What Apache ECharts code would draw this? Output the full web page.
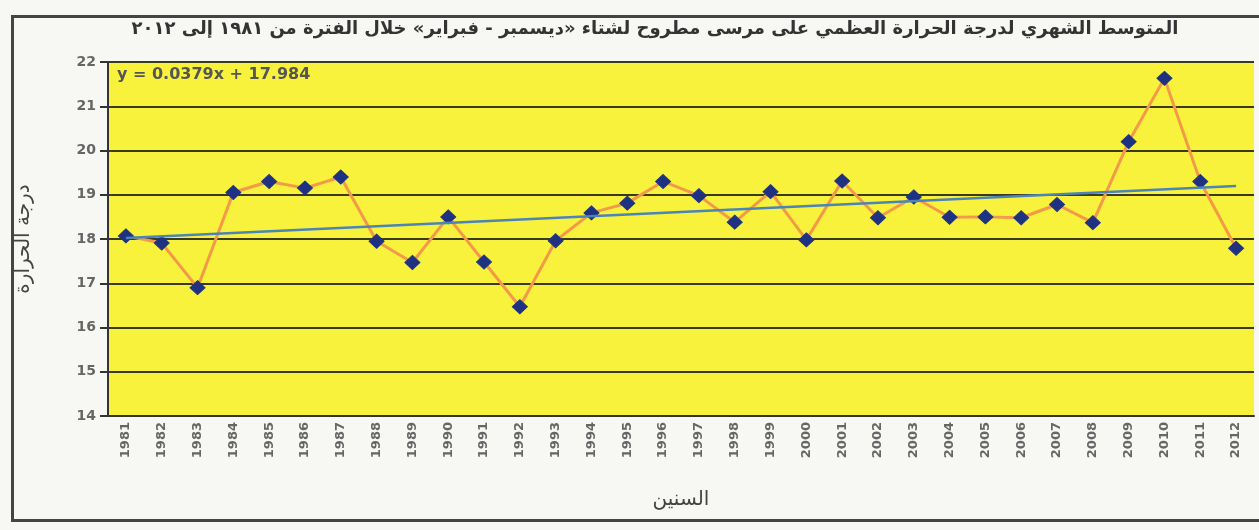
<!DOCTYPE html>
<html>
<head>
<meta charset="utf-8">
<script src="https://cdn.jsdelivr.net/npm/echarts@6/dist/echarts.min.js"></script>
<style>
  html, body { margin: 0; padding: 0; background: #f7f7f4; }
  #main { width: 1259px; height: 530px; }
</style>
</head>
<body>
<div id="main"></div>
<script>
// السنوات (محور السينات)
var years = ['1981', '1982', '1983', '1984', '1985', '1986', '1987', '1988', '1989', '1990',
  '1991', '1992', '1993', '1994', '1995', '1996', '1997', '1998', '1999', '2000',
  '2001', '2002', '2003', '2004', '2005', '2006', '2007', '2008', '2009', '2010',
  '2011', '2012'];

// متوسط درجة الحرارة العظمى
var tempMax = [18.07, 17.91, 16.9, 19.05, 19.3, 19.15, 19.4, 17.95, 17.47, 18.5,
  17.48, 16.47, 17.96, 18.59, 18.81, 19.3, 18.98, 18.38, 19.07, 17.98,
  19.31, 18.48, 18.95, 18.49, 18.5, 18.48, 18.78, 18.37, 20.2, 21.63,
  19.3, 17.79];

// خط الاتجاه: القيمة عند أول سنة وعند آخر سنة
var trendEnds = [18.02, 19.2];
var trendLabel = 'y = 0.0379x + 17.984';

var yTicks = [14, 15, 16, 17, 18, 19, 20, 21, 22];

var chart = echarts.init(document.getElementById('main'));

var option = {
  backgroundColor: '#f7f7f4',
  title: {
    text: 'المتوسط الشهري لدرجة الحرارة العظمي على مرسى مطروح لشتاء «ديسمبر - فبراير» خلال الفترة من ١٩٨١ إلى ٢٠١٢',
    left: 650,
    textAlign: 'center',
    top: 15,
    textStyle: {
      fontFamily: 'DejaVu Sans',
      fontSize: 18,
      fontWeight: 'bold',
      color: '#333'
    }
  },
  grid: {
    left: 108,
    right: 5,
    top: 62,
    bottom: 114,
    show: true,
    backgroundColor: '#f8f23c',
    borderWidth: 0
  },
  xAxis: {
    type: 'category',
    data: years,
    boundaryGap: true,
    name: 'السنين',
    nameLocation: 'middle',
    nameGap: 74,
    nameTextStyle: {
      fontFamily: 'DejaVu Sans',
      fontSize: 20,
      color: '#444'
    },
    axisLine: { lineStyle: { color: '#333', width: 2 } },
    axisTick: { show: false },
    axisLabel: {
      rotate: 90,
      margin: 6,
      interval: 0,
      fontFamily: 'DejaVu Sans',
      fontSize: 13,
      fontWeight: 'bold',
      color: '#666'
    }
  },
  yAxis: {
    type: 'value',
    min: yTicks[0],
    max: yTicks[yTicks.length - 1],
    interval: 1,
    name: 'درجة الحرارة',
    nameLocation: 'middle',
    nameGap: 74,
    nameTextStyle: {
      fontFamily: 'DejaVu Sans',
      fontSize: 20,
      color: '#444'
    },
    axisLine: { show: true, lineStyle: { color: '#333', width: 2 } },
    axisTick: { show: true, length: 8, lineStyle: { color: '#333', width: 2 } },
    axisLabel: {
      margin: 12,
      fontFamily: 'DejaVu Sans',
      fontSize: 14,
      fontWeight: 'bold',
      color: '#666'
    },
    splitLine: { lineStyle: { color: '#3a3a22', width: 2 } }
  },
  series: [{
    name: 'درجة الحرارة',
    type: 'line',
    data: tempMax,
    symbol: 'diamond',
    symbolSize: [15, 14],
    itemStyle: { color: '#1f3282', borderColor: '#1f3282' },
    lineStyle: { color: '#f29a48', width: 3 },
    z: 3,
    markLine: {
      silent: true,
      symbol: 'none',
      label: { show: false },
      lineStyle: { color: '#4a84b8', width: 2.5, type: 'solid' },
      data: [[
        { coord: [years[0], trendEnds[0]] },
        { coord: [years[years.length - 1], trendEnds[1]] }
      ]]
    }
  }],
  graphic: [{
    type: 'rect',
    left: 10,
    top: 14,
    shape: { width: 1262, height: 504 },
    style: { fill: 'none', stroke: '#444', lineWidth: 3 },
    silent: true
  }, {
    type: 'text',
    left: 117,
    top: 67,
    style: {
      text: trendLabel,
      fontFamily: 'DejaVu Sans',
      fontSize: 16,
      fontWeight: 'bold',
      fill: '#555'
    },
    z: 10
  }]
};

chart.setOption(option);
</script>
</body>
</html>
